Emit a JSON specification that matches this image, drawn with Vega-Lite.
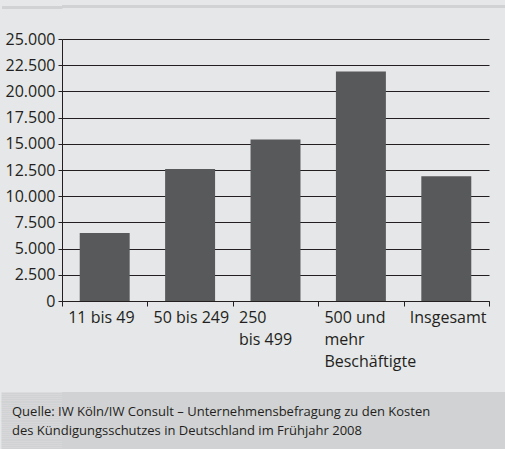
{
  "$schema": "https://vega.github.io/schema/vega-lite/v6.json",
  "background": "#e6e7e8",
  "padding": 0,
  "config": {
    "view": {"stroke": null},
    "font": "Open Sans"
  },
  "vconcat": [
    {
      "width": 443,
      "height": 3,
      "view": {"fill": "#d1d2d4"},
      "data": {"values": [{"t": "", "k": "a"}]},
      "mark": {"type": "text"},
      "encoding": {
        "text": {"field": "t"},
        "y": {
          "field": "k",
          "type": "nominal",
          "scale": {"padding": 0.5},
          "axis": {"title": null, "labels": false, "domain": false, "tickSize": 60.5, "tickWidth": 3, "tickColor": "#d1d2d4", "minExtent": 62, "maxExtent": 62}
        }
      }
    },
    {
      "vconcat": [
        {
          "width": 427,
          "height": 262,
          "data": {
            "values": [
              {"g": "11 bis 49", "v": 6500},
              {"g": "50 bis 249", "v": 12600},
              {"g": "250|bis 499", "v": 15400},
              {"g": "500 und|mehr|Beschäftigte", "v": 21900},
              {"g": "Insgesamt", "v": 11900}
            ]
          },
          "mark": {"type": "bar", "color": "#58595b", "width": {"band": 0.585}},
          "encoding": {
            "x": {
              "field": "g",
              "type": "nominal",
              "sort": null,
              "scale": {"paddingInner": 0, "paddingOuter": 0},
              "axis": {
                "title": null,
                "labelAngle": 0,
                "tickBand": "extent",
                "tickSize": 5,
                "tickColor": "#231f20",
                "domainColor": "#231f20",
                "labelExpr": "split(datum.label, '|')",
                "labelFontSize": 16,
                "labelColor": "#231f20",
                "labelLineHeight": 22,
                "labelPadding": 3,
                "labelBaseline": "top",
                "labelAlign": "left",
                "labelOffset": -37,
                "labelOverlap": false,
                "labelBound": false,
                "grid": false
              }
            },
            "y": {
              "field": "v",
              "type": "quantitative",
              "scale": {"domain": [0, 25000]},
              "axis": {
                "title": null,
                "values": [0, 2500, 5000, 7500, 10000, 12500, 15000, 17500, 20000, 22500, 25000],
                "labelExpr": "replace(format(datum.value, ',d'), ',', '.')",
                "tickSize": 4,
                "tickColor": "#231f20",
                "domainColor": "#231f20",
                "labelFontSize": 16,
                "labelColor": "#231f20",
                "labelPadding": 3,
                "labelOverlap": false,
                "gridColor": "#231f20",
                "gridWidth": 1,
                "minExtent": 62,
                "maxExtent": 62
              }
            }
          }
        },
        {
          "width": 443,
          "height": 57,
          "view": {"fill": "#d1d2d4"},
          "data": {
            "values": [
              {"line": 1, "text": "Quelle: IW Köln/IW Consult – Unternehmensbefragung zu den Kosten"},
              {"line": 2, "text": "des Kündigungsschutzes in Deutschland im Frühjahr 2008"}
            ]
          },
          "mark": {"type": "text", "align": "left", "baseline": "middle", "fontSize": 13, "color": "#231f20", "dy": 1},
          "encoding": {
            "x": {"value": -50},
            "y": {
              "field": "line",
              "type": "quantitative",
              "scale": {"domain": [0, 3], "reverse": true, "nice": false, "zero": false},
              "axis": {
                "title": null,
                "labels": false,
                "domain": false,
                "grid": false,
                "values": [0.05, 0.15, 0.25, 0.35, 0.45, 0.55, 0.65, 0.75, 0.85, 0.95, 1.05, 1.15, 1.25, 1.35, 1.45, 1.55, 1.65, 1.75, 1.85, 1.95, 2.05, 2.15, 2.25, 2.35, 2.45, 2.55, 2.65, 2.75, 2.85, 2.95],
                "tickSize": 61,
                "tickWidth": 2,
                "tickColor": "#d1d2d4",
                "minExtent": 62,
                "maxExtent": 62
              }
            },
            "text": {"field": "text"}
          }
        }
      ],
      "spacing": 23
    }
  ],
  "spacing": 19
}
